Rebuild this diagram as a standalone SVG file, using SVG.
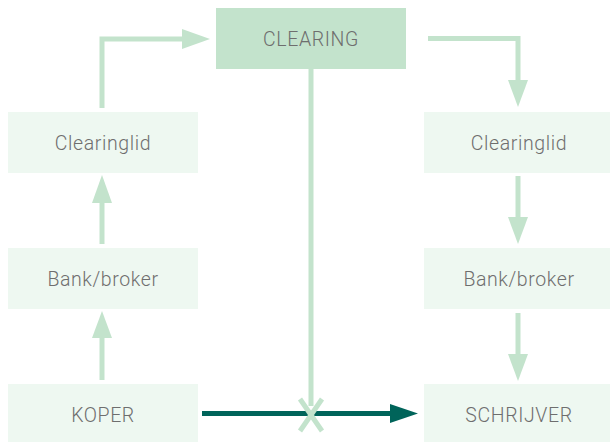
<svg xmlns="http://www.w3.org/2000/svg" width="610" height="442" viewBox="0 0 610 442">
<style>
.box{fill:#eef8f1}
.main{fill:#c3e3cc}
.lbl{font-family:Roboto,"Liberation Sans",sans-serif;font-weight:300;font-size:19.5px;fill:#6e6e6e;text-anchor:middle;letter-spacing:0.6px}
.lg{stroke:#c3e3cc;stroke-width:5;fill:none}
.lgh{fill:#c3e3cc}
</style>
<rect width="610" height="442" fill="#ffffff"/>
<g id="clearing"><rect class="main" x="216" y="8" width="190" height="61"/><text class="lbl" x="311" y="46">CLEARING</text></g>
<g id="clearinglid-left"><rect class="box" x="8" y="112" width="190" height="61"/><text class="lbl" x="103" y="150">Clearinglid</text></g>
<g id="bank-left"><rect class="box" x="8" y="248" width="190" height="61"/><text class="lbl" x="103" y="286">Bank/broker</text></g>
<g id="koper"><rect class="box" x="8" y="384" width="190" height="61"/><text class="lbl" x="103" y="422">KOPER</text></g>
<g id="clearinglid-right"><rect class="box" x="424" y="112" width="190" height="61"/><text class="lbl" x="519" y="150">Clearinglid</text></g>
<g id="bank-right"><rect class="box" x="424" y="248" width="190" height="61"/><text class="lbl" x="519" y="286">Bank/broker</text></g>
<g id="schrijver"><rect class="box" x="424" y="384" width="190" height="61"/><text class="lbl" x="519" y="422">SCHRIJVER</text></g>
<g id="connectors">
<polyline class="lg" points="102,108 102,39 184,39"/>
<polygon class="lgh" points="182,29 210,39 182,49"/>
<line class="lg" x1="102" y1="201" x2="102" y2="244"/>
<polygon class="lgh" points="92,203 102,175 112,203"/>
<line class="lg" x1="102" y1="336" x2="102" y2="380"/>
<polygon class="lgh" points="92,338 102,311 112,338"/>
<polyline class="lg" points="428,38.5 518,38.5 518,82"/>
<polygon class="lgh" points="508,80 518,107 528,80"/>
<line class="lg" x1="518" y1="176" x2="518" y2="219"/>
<polygon class="lgh" points="508,217 518,244 528,217"/>
<line class="lg" x1="518" y1="313" x2="518" y2="356"/>
<polygon class="lgh" points="508,354 518,381 528,354"/>
<line x1="202" y1="413.5" x2="392" y2="413.5" stroke="#00645a" stroke-width="5"/>
<polygon fill="#00645a" points="390,404 418,413.5 390,423"/>
<line class="lg" x1="311" y1="69" x2="311" y2="406"/>
<line class="lg" stroke-width="6" x1="300" y1="399" x2="322" y2="431"/>
<line class="lg" stroke-width="6" x1="322" y1="399" x2="300" y2="431"/>
</g>
</svg>
